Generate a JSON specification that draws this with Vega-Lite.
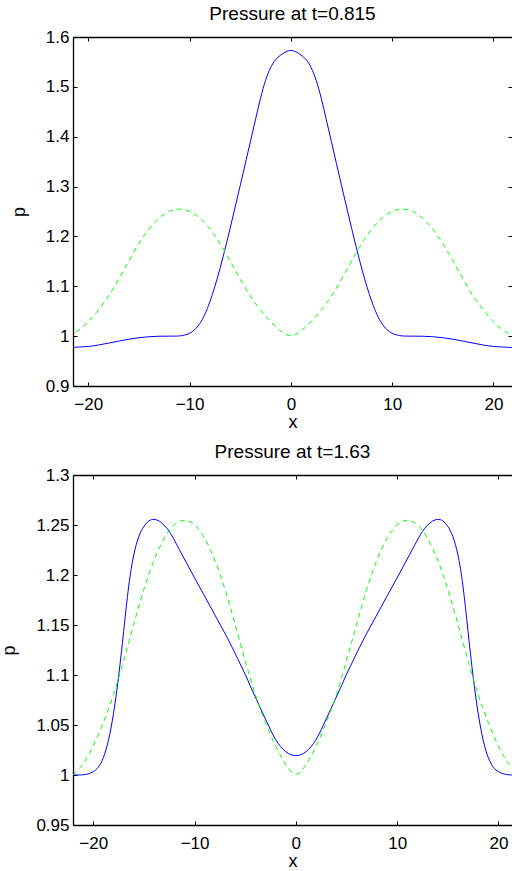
{
  "$schema": "https://vega.github.io/schema/vega-lite/v6.json",
  "background": "white",
  "padding": {"left": 0, "top": 5, "right": 0, "bottom": 0},
  "spacing": 12,
  "config": {
    "font": "Liberation Sans",
    "view": {"stroke": null},
    "axis": {
      "grid": false,
      "domainColor": "#000000",
      "domainWidth": 1.3,
      "tickColor": "#000000",
      "tickWidth": 1,
      "tickSize": -4,
      "labelColor": "#000000",
      "labelFontSize": 17,
      "labelPadding": 8,
      "titleColor": "#000000",
      "titleFontSize": 18,
      "titleFontWeight": "normal",
      "labelFlush": false,
      "labelOverlap": false
    },
    "axisLeft": {"titlePadding": 17},
    "axisBottom": {"labelPadding": 14, "titlePadding": 1},
    "title": {"fontSize": 19, "fontWeight": "normal", "color": "#000000", "baseline": "alphabetic", "offset": 4}
  },
  "datasets": {
    "topBlue": [
      {"x": -22, "p": 0.977}, {"x": -21, "p": 0.978}, {"x": -20, "p": 0.979}, {"x": -19, "p": 0.982},
      {"x": -18, "p": 0.986}, {"x": -17, "p": 0.99}, {"x": -16, "p": 0.994}, {"x": -15, "p": 0.997},
      {"x": -14, "p": 0.999}, {"x": -13, "p": 1.0}, {"x": -12, "p": 1.0}, {"x": -11, "p": 1.0},
      {"x": -10.5, "p": 1.002}, {"x": -10, "p": 1.005}, {"x": -9.5, "p": 1.012}, {"x": -9, "p": 1.024},
      {"x": -8.5, "p": 1.042}, {"x": -8, "p": 1.068}, {"x": -7.5, "p": 1.099}, {"x": -7, "p": 1.135},
      {"x": -6.5, "p": 1.174}, {"x": -6, "p": 1.216}, {"x": -5.5, "p": 1.259}, {"x": -5, "p": 1.302},
      {"x": -4.5, "p": 1.346}, {"x": -4, "p": 1.39}, {"x": -3.5, "p": 1.434}, {"x": -3, "p": 1.478},
      {"x": -2.5, "p": 1.515}, {"x": -2, "p": 1.54}, {"x": -1.5, "p": 1.556}, {"x": -1, "p": 1.564},
      {"x": -0.5, "p": 1.571}, {"x": 0, "p": 1.574}, {"x": 0.5, "p": 1.571}, {"x": 1, "p": 1.564},
      {"x": 1.5, "p": 1.556}, {"x": 2, "p": 1.54}, {"x": 2.5, "p": 1.515}, {"x": 3, "p": 1.478},
      {"x": 3.5, "p": 1.434}, {"x": 4, "p": 1.39}, {"x": 4.5, "p": 1.346}, {"x": 5, "p": 1.302},
      {"x": 5.5, "p": 1.259}, {"x": 6, "p": 1.216}, {"x": 6.5, "p": 1.174}, {"x": 7, "p": 1.135},
      {"x": 7.5, "p": 1.099}, {"x": 8, "p": 1.068}, {"x": 8.5, "p": 1.042}, {"x": 9, "p": 1.024},
      {"x": 9.5, "p": 1.012}, {"x": 10, "p": 1.005}, {"x": 10.5, "p": 1.002}, {"x": 11, "p": 1.0},
      {"x": 12, "p": 1.0}, {"x": 13, "p": 1.0}, {"x": 14, "p": 0.999}, {"x": 15, "p": 0.997},
      {"x": 16, "p": 0.994}, {"x": 17, "p": 0.99}, {"x": 18, "p": 0.986}, {"x": 19, "p": 0.982},
      {"x": 20, "p": 0.979}, {"x": 21, "p": 0.978}, {"x": 22, "p": 0.977}
    ],
    "green": [
      {"x": -22, "p": 1.0}, {"x": -21, "p": 1.01}, {"x": -20, "p": 1.028}, {"x": -19, "p": 1.052},
      {"x": -18, "p": 1.079}, {"x": -17, "p": 1.114}, {"x": -16, "p": 1.151}, {"x": -15, "p": 1.187},
      {"x": -14, "p": 1.216}, {"x": -13, "p": 1.238}, {"x": -12, "p": 1.252}, {"x": -11, "p": 1.256},
      {"x": -10, "p": 1.252}, {"x": -9, "p": 1.238}, {"x": -8, "p": 1.216}, {"x": -7, "p": 1.187},
      {"x": -6, "p": 1.151}, {"x": -5, "p": 1.114}, {"x": -4, "p": 1.079}, {"x": -3, "p": 1.052},
      {"x": -2, "p": 1.028}, {"x": -1, "p": 1.01}, {"x": -0.5, "p": 1.003}, {"x": 0, "p": 1.0},
      {"x": 0.5, "p": 1.003}, {"x": 1, "p": 1.01}, {"x": 2, "p": 1.028}, {"x": 3, "p": 1.052},
      {"x": 4, "p": 1.079}, {"x": 5, "p": 1.114}, {"x": 6, "p": 1.151}, {"x": 7, "p": 1.187},
      {"x": 8, "p": 1.216}, {"x": 9, "p": 1.238}, {"x": 10, "p": 1.252}, {"x": 11, "p": 1.256},
      {"x": 12, "p": 1.252}, {"x": 13, "p": 1.238}, {"x": 14, "p": 1.216}, {"x": 15, "p": 1.187},
      {"x": 16, "p": 1.151}, {"x": 17, "p": 1.114}, {"x": 18, "p": 1.079}, {"x": 19, "p": 1.052},
      {"x": 20, "p": 1.028}, {"x": 21, "p": 1.01}, {"x": 22, "p": 1.0}
    ],
    "bottomBlue": [
      {"x": -22, "p": 1.0}, {"x": -21, "p": 1.0}, {"x": -20.5, "p": 1.001}, {"x": -20, "p": 1.003},
      {"x": -19.5, "p": 1.007}, {"x": -19, "p": 1.016}, {"x": -18.5, "p": 1.033}, {"x": -18, "p": 1.06},
      {"x": -17.5, "p": 1.097}, {"x": -17, "p": 1.143}, {"x": -16.5, "p": 1.192}, {"x": -16, "p": 1.222},
      {"x": -15.5, "p": 1.24}, {"x": -15, "p": 1.249}, {"x": -14.5, "p": 1.255}, {"x": -14, "p": 1.256},
      {"x": -13.5, "p": 1.2545}, {"x": -13, "p": 1.25}, {"x": -12.5, "p": 1.244}, {"x": -12, "p": 1.235},
      {"x": -11, "p": 1.216}, {"x": -10, "p": 1.197}, {"x": -9, "p": 1.179}, {"x": -8, "p": 1.16},
      {"x": -7, "p": 1.142}, {"x": -6, "p": 1.122}, {"x": -5.5, "p": 1.111}, {"x": -5, "p": 1.101},
      {"x": -4.5, "p": 1.089}, {"x": -4, "p": 1.078}, {"x": -3.5, "p": 1.067}, {"x": -3, "p": 1.056},
      {"x": -2.5, "p": 1.045}, {"x": -2, "p": 1.035}, {"x": -1.5, "p": 1.028}, {"x": -1, "p": 1.023},
      {"x": -0.5, "p": 1.02}, {"x": 0, "p": 1.019}, {"x": 0.5, "p": 1.02}, {"x": 1, "p": 1.023},
      {"x": 1.5, "p": 1.028}, {"x": 2, "p": 1.035}, {"x": 2.5, "p": 1.045}, {"x": 3, "p": 1.056},
      {"x": 3.5, "p": 1.067}, {"x": 4, "p": 1.078}, {"x": 4.5, "p": 1.089}, {"x": 5, "p": 1.101},
      {"x": 5.5, "p": 1.111}, {"x": 6, "p": 1.122}, {"x": 7, "p": 1.142}, {"x": 8, "p": 1.16},
      {"x": 9, "p": 1.179}, {"x": 10, "p": 1.197}, {"x": 11, "p": 1.216}, {"x": 12, "p": 1.235},
      {"x": 12.5, "p": 1.244}, {"x": 13, "p": 1.25}, {"x": 13.5, "p": 1.2545}, {"x": 14, "p": 1.256},
      {"x": 14.5, "p": 1.255}, {"x": 15, "p": 1.249}, {"x": 15.5, "p": 1.24}, {"x": 16, "p": 1.222},
      {"x": 16.5, "p": 1.192}, {"x": 17, "p": 1.143}, {"x": 17.5, "p": 1.097}, {"x": 18, "p": 1.06},
      {"x": 18.5, "p": 1.033}, {"x": 19, "p": 1.016}, {"x": 19.5, "p": 1.007}, {"x": 20, "p": 1.003},
      {"x": 20.5, "p": 1.001}, {"x": 21, "p": 1.0}, {"x": 22, "p": 1.0}
    ]
  },
  "vconcat": [
    {
      "title": "Pressure at t=0.815",
      "width": 439,
      "height": 349,
      "layer": [
        {
          "data": {"name": "topBlue"},
          "mark": {"type": "line", "color": "#0000ff", "strokeWidth": 1, "interpolate": "basis", "clip": true},
          "encoding": {
            "x": {"field": "x", "type": "quantitative", "scale": {"domain": [-21.51, 21.83], "nice": false, "zero": false},
                  "axis": {"orient": "bottom", "values": [-20, -10, 0, 10, 20], "title": "x"}},
            "y": {"field": "p", "type": "quantitative", "scale": {"domain": [0.9, 1.6], "nice": false, "zero": false},
                  "axis": {"orient": "left", "values": [0.9, 1, 1.1, 1.2, 1.3, 1.4, 1.5, 1.6], "format": "~g", "title": "p"}}
          }
        },
        {
          "data": {"name": "green"},
          "mark": {"type": "line", "color": "#00ff00", "strokeWidth": 1, "strokeDash": [5, 4], "interpolate": "basis", "clip": true},
          "encoding": {
            "x": {"field": "x", "type": "quantitative", "scale": {"domain": [-21.51, 21.83], "nice": false, "zero": false},
                  "axis": {"orient": "top", "values": [-20, -10, 0, 10, 20], "labels": false, "title": null}},
            "y": {"field": "p", "type": "quantitative", "scale": {"domain": [0.9, 1.6], "nice": false, "zero": false},
                  "axis": {"orient": "right", "values": [0.9, 1, 1.1, 1.2, 1.3, 1.4, 1.5, 1.6], "labels": false, "title": null, "domain": false}}
          }
        }
      ],
      "resolve": {"axis": {"x": "independent", "y": "independent"}}
    },
    {
      "title": "Pressure at t=1.63",
      "width": 439,
      "height": 350,
      "layer": [
        {
          "data": {"name": "bottomBlue"},
          "mark": {"type": "line", "color": "#0000ff", "strokeWidth": 1, "interpolate": "basis", "clip": true},
          "encoding": {
            "x": {"field": "x", "type": "quantitative", "scale": {"domain": [-22, 21.34], "nice": false, "zero": false},
                  "axis": {"orient": "bottom", "values": [-20, -10, 0, 10, 20], "title": "x"}},
            "y": {"field": "p", "type": "quantitative", "scale": {"domain": [0.95, 1.3], "nice": false, "zero": false},
                  "axis": {"orient": "left", "values": [0.95, 1, 1.05, 1.1, 1.15, 1.2, 1.25, 1.3], "format": "~g", "title": "p"}}
          }
        },
        {
          "data": {"name": "green"},
          "mark": {"type": "line", "color": "#00ff00", "strokeWidth": 1, "strokeDash": [5, 4], "interpolate": "basis", "clip": true},
          "encoding": {
            "x": {"field": "x", "type": "quantitative", "scale": {"domain": [-22, 21.34], "nice": false, "zero": false},
                  "axis": {"orient": "top", "values": [-20, -10, 0, 10, 20], "labels": false, "title": null}},
            "y": {"field": "p", "type": "quantitative", "scale": {"domain": [0.95, 1.3], "nice": false, "zero": false},
                  "axis": null}
          }
        }
      ],
      "resolve": {"axis": {"x": "independent", "y": "independent"}}
    }
  ]
}
